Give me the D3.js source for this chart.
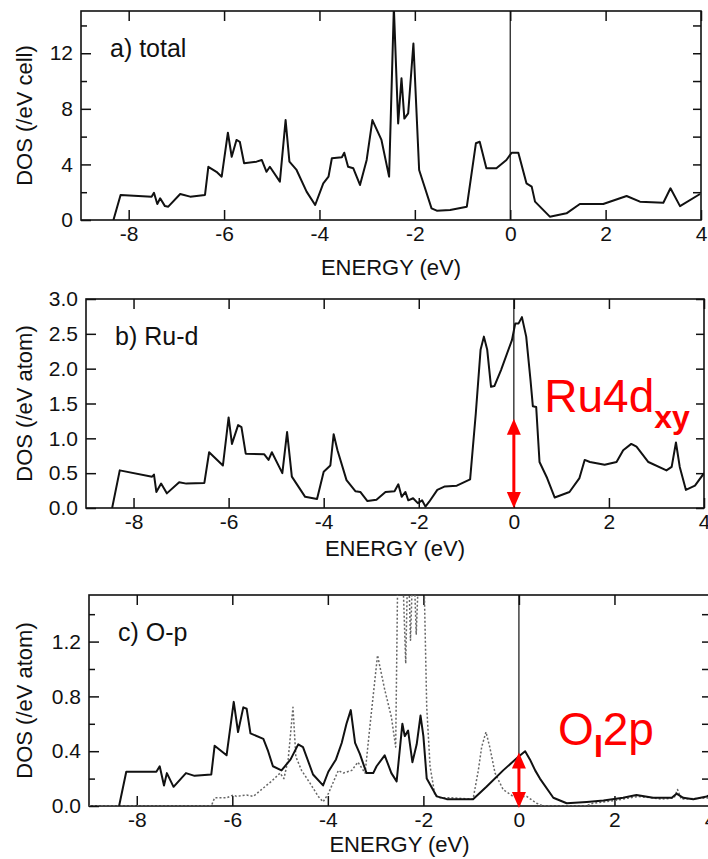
<!DOCTYPE html>
<html>
<head>
<meta charset="utf-8">
<script src="https://cdn.jsdelivr.net/npm/d3@7"></script>
<style>
body { margin: 0; background: #fff; }
text { font-family: "Liberation Sans", Arial, Helvetica, sans-serif; fill: #111; }
</style>
</head>
<body>
<svg id="chart" width="708" height="859"></svg>
<script>
// values
var energyTicks = [-8, -6, -4, -2, 0, 2, 4];
var xTitle = "ENERGY (eV)";
var panelLabels = ["a) total", "b) Ru-d", "c) O-p"];
var yTitles = ["DOS (/eV cell)", "DOS (/eV atom)", "DOS (/eV atom)"];

// a) total
var totalTicks = [0, 4, 8, 12];
var totalMinor = [2, 6, 10, 14];
var totalE = [-8.32, -8.17, -7.52, -7.47, -7.40, -7.34, -7.24, -7.17, -6.92, -6.71, -6.40, -6.33, -6.16, -6.05, -5.92, -5.84, -5.74, -5.67, -5.58, -5.32, -5.21, -5.11, -5.04, -4.83, -4.71, -4.63, -4.48, -4.27, -4.09, -3.92, -3.81, -3.74, -3.53, -3.48, -3.40, -3.29, -3.15, -3.01, -2.89, -2.70, -2.54, -2.44, -2.35, -2.28, -2.22, -2.14, -2.03, -1.91, -1.82, -1.65, -1.54, -1.26, -0.91, -0.72, -0.64, -0.50, -0.29, -0.08, 0.03, 0.17, 0.34, 0.45, 0.52, 0.83, 1.18, 1.46, 1.95, 2.44, 2.72, 3.21, 3.36, 3.56, 3.98];
var totalDos = [0, 1.8, 1.68, 1.96, 1.15, 1.56, 1.0, 0.96, 1.87, 1.68, 1.8, 3.83, 3.47, 3.12, 6.28, 4.55, 5.76, 5.63, 4.08, 4.2, 4.32, 3.47, 3.83, 2.76, 7.19, 4.2, 3.6, 2.04, 1.08, 2.64, 3.12, 4.44, 4.51, 4.84, 3.83, 3.72, 2.52, 4.32, 7.19, 5.76, 3.12, 15.3, 6.95, 10.2, 7.3, 7.67, 12.7, 3.6, 2.64, 0.84, 0.67, 0.72, 0.96, 5.52, 5.63, 3.72, 3.72, 4.32, 4.84, 4.84, 2.64, 2.4, 1.32, 0.24, 0.48, 1.15, 1.15, 1.73, 1.32, 1.24, 2.28, 1.0, 1.87];

// b) Ru-d
var ruTicks = [0, 0.5, 1, 1.5, 2, 2.5, 3];
var ruE = [-8.45, -8.29, -7.61, -7.57, -7.52, -7.42, -7.30, -7.04, -6.89, -6.51, -6.41, -6.12, -6.00, -5.93, -5.80, -5.73, -5.64, -5.25, -5.16, -5.09, -4.87, -4.77, -4.67, -4.39, -4.14, -4.00, -3.86, -3.79, -3.71, -3.52, -3.33, -3.23, -3.08, -2.89, -2.70, -2.51, -2.43, -2.36, -2.28, -2.22, -2.12, -2.02, -1.93, -1.86, -1.78, -1.61, -1.45, -1.20, -0.92, -0.80, -0.70, -0.63, -0.56, -0.48, -0.41, -0.27, -0.04, 0.03, 0.10, 0.17, 0.26, 0.35, 0.40, 0.47, 0.54, 0.70, 0.86, 1.17, 1.38, 1.49, 1.60, 1.91, 2.16, 2.30, 2.47, 2.58, 2.83, 3.21, 3.32, 3.41, 3.49, 3.62, 3.81, 4.0];
var ruDos = [0, 0.54, 0.45, 0.48, 0.23, 0.35, 0.21, 0.37, 0.35, 0.36, 0.80, 0.61, 1.30, 0.92, 1.19, 1.16, 0.78, 0.77, 0.69, 0.80, 0.50, 1.09, 0.45, 0.16, 0.13, 0.52, 0.61, 1.06, 0.83, 0.40, 0.24, 0.23, 0.10, 0.12, 0.23, 0.24, 0.34, 0.16, 0.23, 0.11, 0.14, 0.07, 0.11, 0.02, 0.09, 0.26, 0.31, 0.32, 0.41, 1.36, 2.27, 2.46, 2.27, 1.74, 1.75, 1.98, 2.41, 2.65, 2.65, 2.74, 2.46, 1.84, 1.46, 1.45, 0.66, 0.43, 0.15, 0.23, 0.43, 0.69, 0.66, 0.62, 0.66, 0.83, 0.92, 0.88, 0.66, 0.54, 0.59, 0.94, 0.59, 0.26, 0.32, 0.50];

// c) O-p : solid and dotted curves
var opTicks = [0, 0.4, 0.8, 1.2];
var opMinor = [0.2, 0.6, 1.0, 1.4];
var opSolidE = [-8.37, -8.22, -7.59, -7.52, -7.43, -7.37, -7.23, -6.97, -6.79, -6.44, -6.37, -6.12, -5.97, -5.88, -5.77, -5.70, -5.62, -5.35, -5.25, -5.15, -4.97, -4.78, -4.62, -4.52, -4.31, -4.10, -3.99, -3.83, -3.71, -3.61, -3.52, -3.43, -3.33, -3.19, -3.05, -2.98, -2.81, -2.67, -2.56, -2.44, -2.39, -2.32, -2.23, -2.14, -2.06, -2.00, -1.93, -1.72, -1.51, -0.96, -0.68, -0.33, -0.01, 0.13, 0.23, 0.34, 0.44, 0.72, 1.00, 1.42, 1.77, 2.18, 2.46, 2.81, 3.20, 3.30, 3.44, 3.65, 3.93, 4.0];
var opSolidDos = [0, 0.25, 0.25, 0.29, 0.15, 0.24, 0.14, 0.24, 0.22, 0.23, 0.44, 0.37, 0.76, 0.54, 0.72, 0.71, 0.53, 0.49, 0.40, 0.29, 0.26, 0.34, 0.45, 0.43, 0.23, 0.15, 0.25, 0.34, 0.46, 0.60, 0.70, 0.46, 0.38, 0.24, 0.24, 0.29, 0.37, 0.24, 0.18, 0.60, 0.51, 0.55, 0.32, 0.45, 0.66, 0.51, 0.20, 0.07, 0.05, 0.05, 0.14, 0.26, 0.36, 0.40, 0.34, 0.26, 0.20, 0.06, 0.02, 0.03, 0.04, 0.06, 0.08, 0.06, 0.06, 0.09, 0.06, 0.05, 0.07, 0.08];
var opDotE = [-9, -6.44, -6.37, -6.12, -5.98, -5.91, -5.70, -5.56, -5.39, -5.18, -5.00, -4.92, -4.83, -4.73, -4.67, -4.55, -4.38, -4.20, -4.10, -3.99, -3.78, -3.68, -3.50, -3.37, -3.22, -3.12, -2.96, -2.81, -2.67, -2.58, -2.53, -2.45, -2.37, -2.32, -2.27, -2.21, -2.15, -2.08, -2.00, -1.93, -1.86, -1.76, -1.65, -1.41, -0.96, -0.85, -0.78, -0.69, -0.61, -0.50, -0.33, -0.12, 0.16, 0.37, 0.51, 1.40, 1.55, 2.00, 2.50, 3.00, 3.25, 3.32, 3.40, 4.00];
var opDotDos = [0, 0, 0.06, 0.06, 0.08, 0.07, 0.08, 0.07, 0.12, 0.18, 0.24, 0.20, 0.34, 0.72, 0.36, 0.26, 0.17, 0.07, 0.03, 0.09, 0.26, 0.24, 0.26, 0.32, 0.24, 0.58, 1.10, 0.85, 0.65, 0.43, 1.9, 1.9, 1.04, 1.9, 1.21, 1.9, 1.25, 1.9, 1.9, 0.72, 0.29, 0.08, 0.06, 0.06, 0.05, 0.26, 0.43, 0.54, 0.43, 0.24, 0.12, 0.07, 0.07, 0.02, 0, 0, 0.02, 0.04, 0.07, 0.05, 0.06, 0.12, 0.05, 0.06];

var svg = d3.select("#chart");
var red = "#ff0000";
var fontStack = "'Liberation Sans', Arial, Helvetica, sans-serif";

function drawPanel(cfg, idx) {
    var x = d3.scaleLinear().domain([-9, 4]).range([cfg.left, cfg.right]);
    var y = d3.scaleLinear().domain(cfg.yDomain).range([cfg.bottom, cfg.top]);
    var g = svg.append("g");

    g.append("clipPath")
        .attr("id", "clip" + idx)
        .append("rect")
        .attr("x", cfg.left)
        .attr("y", cfg.top)
        .attr("width", cfg.right - cfg.left)
        .attr("height", cfg.bottom - cfg.top);

    // axes, ticks pointing inward
    var left = g.append("g")
        .attr("transform", "translate(" + cfg.left + ",0)")
        .call(d3.axisLeft(y).tickValues(cfg.ticks).tickSizeInner(-10).tickSizeOuter(0).tickPadding(8)
            .tickFormat(cfg.fmt));
    if (cfg.minor) {
        g.append("g")
            .attr("transform", "translate(" + cfg.left + ",0)")
            .call(d3.axisLeft(y).tickValues(cfg.minor).tickSizeInner(-6).tickSizeOuter(0).tickFormat(""));
    }
    g.append("g")
        .attr("transform", "translate(" + cfg.right + ",0)")
        .call(d3.axisRight(y).tickValues(cfg.rightTicks).tickSizeInner(-8).tickSizeOuter(0).tickFormat(""));
    g.append("g")
        .attr("transform", "translate(0," + cfg.top + ")")
        .call(d3.axisTop(x).tickValues(energyTicks).tickSizeInner(-10).tickSizeOuter(0).tickFormat(""));
    g.append("g")
        .attr("transform", "translate(0," + cfg.bottom + ")")
        .call(d3.axisBottom(x).tickValues(energyTicks).tickSizeInner(-10).tickSizeOuter(0).tickPadding(6)
            .tickFormat(function(d) { return String(d); }));

    g.selectAll(".domain").remove();
    g.selectAll(".tick line").attr("stroke", "#111").attr("stroke-width", 1.5);
    g.selectAll(".tick text")
        .style("font-family", fontStack)
        .style("font-size", "21px")
        .attr("fill", "#111");

    // frame
    g.append("rect")
        .attr("x", cfg.left)
        .attr("y", cfg.top)
        .attr("width", cfg.right - cfg.left)
        .attr("height", cfg.bottom - cfg.top)
        .attr("fill", "none")
        .attr("stroke", "#111")
        .attr("stroke-width", 1.6);

    // Fermi level
    g.append("line")
        .attr("x1", x(0)).attr("x2", x(0))
        .attr("y1", cfg.top).attr("y2", cfg.bottom)
        .attr("stroke", "#111")
        .attr("stroke-width", 1.2);

    var line = d3.line()
        .x(function(d) { return x(d[0]); })
        .y(function(d) { return y(d[1]); });

    cfg.series.forEach(function(s) {
        g.append("path")
            .datum(d3.zip(s.e, s.v))
            .attr("clip-path", "url(#clip" + idx + ")")
            .attr("d", line)
            .attr("fill", "none")
            .attr("stroke", s.color)
            .attr("stroke-width", s.width)
            .attr("stroke-dasharray", s.dash)
            .attr("stroke-linejoin", "round");
    });

    // panel label
    g.append("text")
        .attr("x", cfg.left + 29)
        .attr("y", cfg.top + 46)
        .style("font-size", "25px")
        .text(panelLabels[idx]);

    // axis titles
    g.append("text")
        .attr("x", (cfg.left + cfg.right) / 2)
        .attr("y", cfg.bottom + cfg.titleGap)
        .attr("text-anchor", "middle")
        .style("font-size", "22px")
        .text(xTitle);
    g.append("text")
        .attr("transform", "translate(32," + (cfg.top + cfg.bottom) / 2 + ") rotate(-90)")
        .attr("text-anchor", "middle")
        .style("font-size", "22px")
        .text(yTitles[idx]);

    return {x: x, y: y, g: g};
}

function arrow(p, e, v0, v1) {
    var xa = p.x(e), ya = p.y(v0), yb = p.y(v1);
    var hw = 7, hh = 16;
    p.g.append("line")
        .attr("x1", xa).attr("x2", xa)
        .attr("y1", ya + hh - 2).attr("y2", yb - hh + 2)
        .attr("stroke", red)
        .attr("stroke-width", 3);
    p.g.append("path")
        .attr("d", "M" + xa + "," + ya + "L" + (xa - hw) + "," + (ya + hh) + "L" + (xa + hw) + "," + (ya + hh) + "Z")
        .attr("fill", red);
    p.g.append("path")
        .attr("d", "M" + xa + "," + yb + "L" + (xa - hw) + "," + (yb - hh) + "L" + (xa + hw) + "," + (yb - hh) + "Z")
        .attr("fill", red);
}

var fmt1 = function(d) { return d.toFixed(1); };

var pa = drawPanel({
    left: 81, right: 701, top: 11, bottom: 220, yDomain: [0, 15.04],
    ticks: totalTicks, minor: totalMinor, rightTicks: [2, 4, 6, 8, 10, 12, 14],
    fmt: function(d) { return String(d); }, titleGap: 55,
    series: [{e: totalE, v: totalDos, color: "#111", width: 2, dash: null}]
}, 0);

var pb = drawPanel({
    left: 86, right: 704, top: 299, bottom: 508, yDomain: [0, 3],
    ticks: ruTicks, minor: null, rightTicks: ruTicks,
    fmt: fmt1, titleGap: 48,
    series: [{e: ruE, v: ruDos, color: "#111", width: 2, dash: null}]
}, 1);

var pc = drawPanel({
    left: 89, right: 710, top: 595, bottom: 806, yDomain: [0, 1.54],
    ticks: opTicks, minor: opMinor, rightTicks: [0.2, 0.4, 0.6, 0.8, 1.0, 1.2, 1.4],
    fmt: fmt1, titleGap: 46,
    series: [
        {e: opDotE, v: opDotDos, color: "#666", width: 1.5, dash: "2,2"},
        {e: opSolidE, v: opSolidDos, color: "#111", width: 2, dash: null}
    ]
}, 2);

// red annotations
arrow(pb, 0, 1.28, 0);
pb.g.append("text")
    .attr("x", pb.x(0.64))
    .attr("y", pb.y(1.38))
    .style("font-size", "46px")
    .style("fill", red)
    .text("Ru4d")
    .append("tspan")
    .attr("dy", 16)
    .style("font-size", "32px")
    .style("font-weight", "bold")
    .style("fill", red)
    .text("xy");

arrow(pc, 0, 0.39, -0.015);
var oText = pc.g.append("text")
    .attr("x", pc.x(0.82))
    .attr("y", pc.y(0.445))
    .style("font-size", "46px")
    .style("fill", red);
oText.append("tspan").text("O");
oText.append("tspan")
    .attr("dy", 12)
    .style("font-size", "32px")
    .style("font-weight", "bold")
    .style("fill", red)
    .text("I");
oText.append("tspan")
    .attr("dy", -12)
    .style("fill", red)
    .text("2p");
</script>
</body>
</html>
